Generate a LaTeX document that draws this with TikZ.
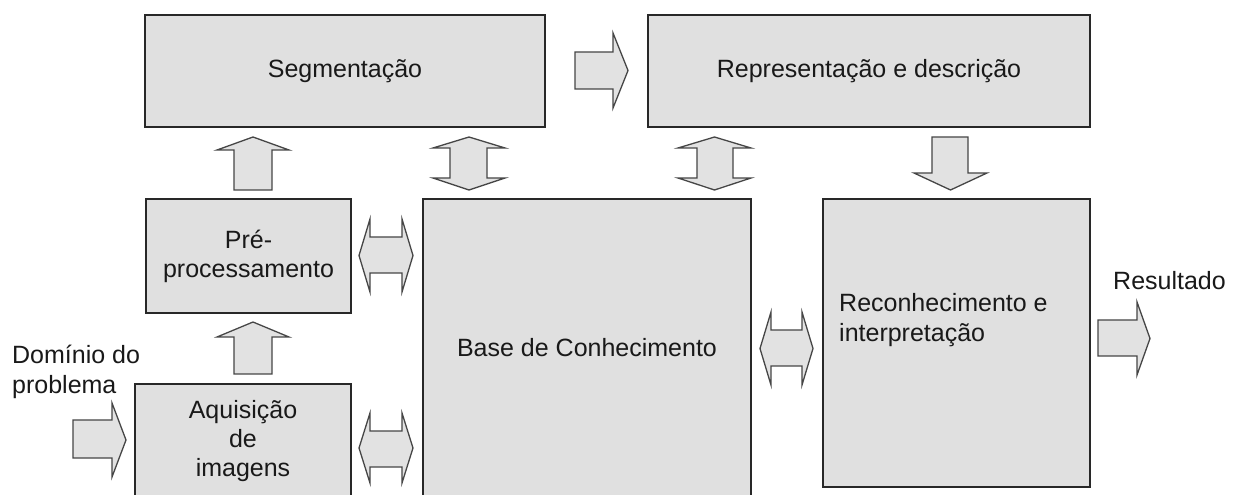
\documentclass[tikz,border=0pt]{standalone}
\usepackage{fontspec}
\setmainfont{Liberation Sans}
\definecolor{boxgray}{RGB}{224,224,224}
\definecolor{arrgray}{RGB}{226,226,226}
\definecolor{boxline}{RGB}{40,40,40}
\definecolor{arrline}{RGB}{70,70,70}
\definecolor{txt}{RGB}{25,25,25}
\begin{document}
\begin{tikzpicture}[x=1bp,y=-1bp,
  box/.style={draw=boxline, line width=1.6bp, fill=boxgray, inner sep=0pt,
    align=center, text=txt, font=\fontsize{25bp}{29bp}\selectfont},
  lbl/.style={inner sep=0pt, align=left, text=txt, font=\fontsize{25bp}{30bp}\selectfont},
  barrow/.style={draw=arrline, line width=1.3bp, fill=arrgray, line join=miter}]
\clip (0,0) rectangle (1236,495);
\fill[white] (0,0) rectangle (1236,495);
% boxes
\node[box, minimum width=400bp, minimum height=112bp] (seg) at (345,71) {Segmentação};
\node[box, minimum width=442bp, minimum height=112bp] (rep) at (869,71) {Representação e descrição};
\node[box, minimum width=205bp, minimum height=114bp] (pre) at (248.5,256) {Pré-\\processamento};
\node[box, minimum width=216bp, minimum height=114bp] (aq) at (243,441) {Aquisição\\de\\imagens};
\node[box, minimum width=328bp, minimum height=298bp] (base) at (587,348) {Base de Conhecimento};
\node[box, minimum width=267bp, minimum height=288bp] (rec) at (956.5,343) {};
\node[lbl, anchor=west] (rectxt) at (839,320) {Reconhecimento e\\interpretação};
\node[lbl, anchor=base west] (res) at (1113,290) {Resultado};
\node[lbl, anchor=west] (dom) at (12,371.5) {Domínio do\\problema};
% block arrows
\draw[barrow] (575,52)--(613,52)--(613,33)--(628,70.5)--(613,108)--(613,89)--(575,89)--cycle;
\draw[barrow] (234,190)--(234,150)--(217,150)--(253,137)--(289,150)--(272,150)--(272,190)--cycle;
\draw[barrow] (234,374)--(234,337)--(217,337)--(253,322)--(289,337)--(272,337)--(272,374)--cycle;
\draw[barrow] (73,420)--(112,420)--(112,403)--(126,440)--(112,477)--(112,458)--(73,458)--cycle;
\draw[barrow] (359,255.5)--(370,219)--(370,237)--(402,237)--(402,219)--(413,255.5)--(402,292)--(402,273)--(370,273)--(370,292)--cycle;
\draw[barrow] (359,448)--(370,413)--(370,431)--(402,431)--(402,413)--(413,448)--(402,483)--(402,467)--(370,467)--(370,483)--cycle;
\draw[barrow] (760,348.5)--(771,312)--(771,330)--(802,330)--(802,312)--(813,348.5)--(802,385)--(802,366)--(771,366)--(771,385)--cycle;
\draw[barrow] (1098,320)--(1137,320)--(1137,302)--(1150,338.5)--(1137,375)--(1137,356)--(1098,356)--cycle;
\draw[barrow] (469,137)--(505,148)--(487,148)--(487,178)--(505,178)--(469,190)--(433,178)--(450,178)--(450,148)--(433,148)--cycle;
\draw[barrow] (714.5,137)--(751,148)--(733,148)--(733,178)--(751,178)--(714.5,190)--(678,178)--(697,178)--(697,148)--(678,148)--cycle;
\draw[barrow] (932,137)--(968,137)--(968,173)--(987,173)--(950.5,190)--(914,173)--(932,173)--cycle;
\end{tikzpicture}
\end{document}
